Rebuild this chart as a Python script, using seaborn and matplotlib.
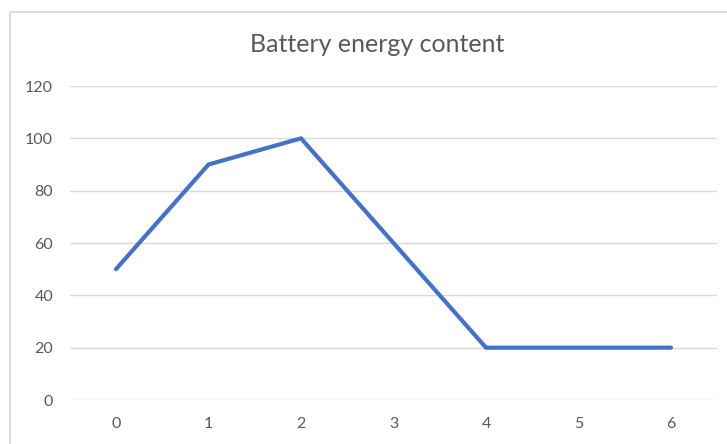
import numpy as np
import pandas as pd
import matplotlib
matplotlib.use('Agg')
import matplotlib.pyplot as plt
import seaborn as sns
from matplotlib.patches import Rectangle

# data
hours = [0, 1, 2, 3, 4, 5, 6]
energy = [50, 90, 100, 60, 20, 20, 20]
y_ticks = [0, 20, 40, 60, 80, 100, 120]

df = pd.DataFrame({'hour': hours, 'energy': energy})

sns.set_style('white')
plt.rcParams['font.family'] = ['Lato', 'DejaVu Sans']

fig = plt.figure(figsize=(7.27, 4.44), dpi=100)
ax = fig.add_axes([69.75 / 727, 44 / 444, 647.5 / 727, 314 / 444])

# chart frame (excel style border, cut off on the right/bottom)
fig.patches.append(Rectangle((10 / 727, -0.1), 2.0, (444 - 12) / 444 + 0.1,
                             transform=fig.transFigure, fill=False,
                             edgecolor='#D9D9D9', linewidth=1.2))

sns.lineplot(data=df, x='hour', y='energy', ax=ax, color='#4472C4',
             linewidth=3.0, solid_capstyle='round')

ax.set_xlim(-0.5, 6.5)
ax.set_ylim(0, 120)
ax.set_xticks(hours)
ax.set_yticks(y_ticks)
ax.yaxis.grid(True, color='#D9D9D9', linewidth=1.0)
ax.set_axisbelow(True)
for s in ax.spines.values():
    s.set_visible(False)
ax.tick_params(axis='both', length=0, labelsize=11.5, labelcolor='#595959')
ax.tick_params(axis='y', pad=12)
ax.tick_params(axis='x', pad=12)
ax.set_xlabel('')
ax.set_ylabel('')

fig.text(377 / 727, 1 - 45 / 444, 'Battery energy content', ha='center',
         va='center', fontsize=18, color='#595959')

fig.savefig('out.png', dpi=100)
